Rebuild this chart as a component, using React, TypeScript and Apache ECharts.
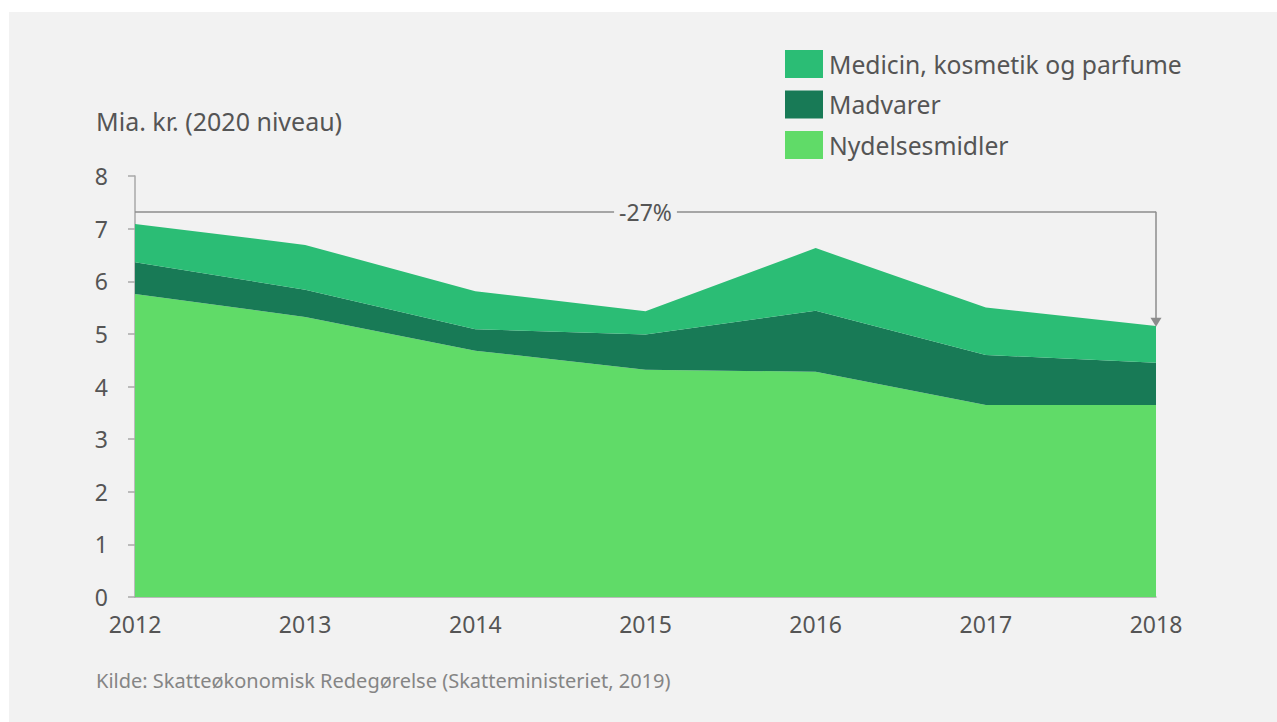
import React, { useEffect, useRef } from "react";
import * as echarts from "echarts";

const years = ["2012", "2013", "2014", "2015", "2016", "2017", "2018"];
const nydelsesmidler = [5.76, 5.32, 4.68, 4.32, 4.28, 3.65, 3.65];
const madvarer = [0.6, 0.52, 0.41, 0.67, 1.16, 0.95, 0.8];
const medicin = [0.73, 0.85, 0.72, 0.44, 1.19, 0.9, 0.7];
const seriesNames = ["Nydelsesmidler", "Madvarer", "Medicin, kosmetik og parfume"];
const legendOrder = ["Medicin, kosmetik og parfume", "Madvarer", "Nydelsesmidler"];
const colors = ["#60DB68", "#187A56", "#2BBD75"];
const bracketLevel = 7.32;
const arrowEnd = 5.22;
const changeLabel = "-27%";
const yTitle = "Mia. kr. (2020 niveau)";
const source = "Kilde: Skatteøkonomisk Redegørelse (Skatteministeriet, 2019)";

const FONT = "'Noto Sans', sans-serif";
const TXT = "#555555";

export default function App() {
  const ref = useRef<HTMLDivElement>(null);
  useEffect(() => {
    if (!ref.current) return;
    const chart = echarts.init(ref.current, null, { renderer: "svg" });
    const data = [nydelsesmidler, madvarer, medicin];
    chart.setOption({
      animation: false,
      backgroundColor: "#ffffff",
      textStyle: { fontFamily: FONT },
      graphic: [
        { type: "rect", z: -10, shape: { x: 9, y: 12, width: 1268, height: 710 }, style: { fill: "#F2F2F2" } },
        { type: "text", left: 96, top: 108, style: { text: yTitle, fill: TXT, font: `25px ${FONT}` } },
        { type: "text", left: 96, top: 670, style: { text: source, fill: "#858585", font: `20px ${FONT}` } },
      ],
      legend: {
        data: legendOrder,
        orient: "vertical",
        left: 785,
        top: 50,
        padding: 0,
        itemWidth: 38,
        itemHeight: 28,
        itemGap: 12.5,
        icon: "rect",
        textStyle: { color: TXT, fontSize: 24.7, fontFamily: FONT, padding: [3, 0, 0, 1] },
      },
      grid: { left: 135, right: 121, top: 176, bottom: 125 },
      xAxis: {
        type: "category",
        data: years,
        boundaryGap: false,
        axisLine: { lineStyle: { color: "#A8A8A8", width: 1.5 } },
        axisTick: { show: false },
        axisLabel: { color: TXT, fontSize: 23, fontFamily: FONT, margin: 15 },
      },
      yAxis: {
        type: "value",
        min: 0,
        max: 8,
        interval: 1,
        axisLine: { show: true, lineStyle: { color: "#A8A8A8", width: 1.5 } },
        axisTick: { show: true, length: 7, lineStyle: { color: "#A8A8A8", width: 1.5 } },
        splitLine: { show: false },
        axisLabel: { color: TXT, fontSize: 23, fontFamily: FONT, margin: 27 },
      },
      series: seriesNames.map((name, i) => ({
        name,
        type: "line",
        stack: "total",
        data: data[i],
        symbol: "none",
        lineStyle: { width: 0 },
        itemStyle: { color: colors[i] },
        areaStyle: { color: colors[i], opacity: 1 },
        z: 2,
        markLine:
          i === 2
            ? {
                silent: true,
                symbol: ["none", "none"],
                lineStyle: { color: "#8C8C8C", width: 1.5, type: "solid" },
                label: { show: false },
                data: [
                  [
                    {
                      coord: [0, bracketLevel],
                      label: {
                        show: true,
                        position: "middle",
                        distance: 0,
                        verticalAlign: "middle",
                        formatter: changeLabel,
                        color: TXT,
                        fontSize: 23,
                        fontFamily: FONT,
                        backgroundColor: "#F2F2F2",
                        padding: [0, 5],
                      },
                    },
                    { coord: [6, bracketLevel] },
                  ],
                  [
                    { coord: [6, bracketLevel], symbol: "none" },
                    { coord: [6, arrowEnd], symbol: "triangle", symbolSize: [11, 9], symbolRotate: 180 },
                  ],
                ],
              }
            : undefined,
      })),
    });
    return () => chart.dispose();
  }, []);
  return <div ref={ref} style={{ position: "fixed", left: 0, top: 0, width: 1277, height: 722 }} />;
}
